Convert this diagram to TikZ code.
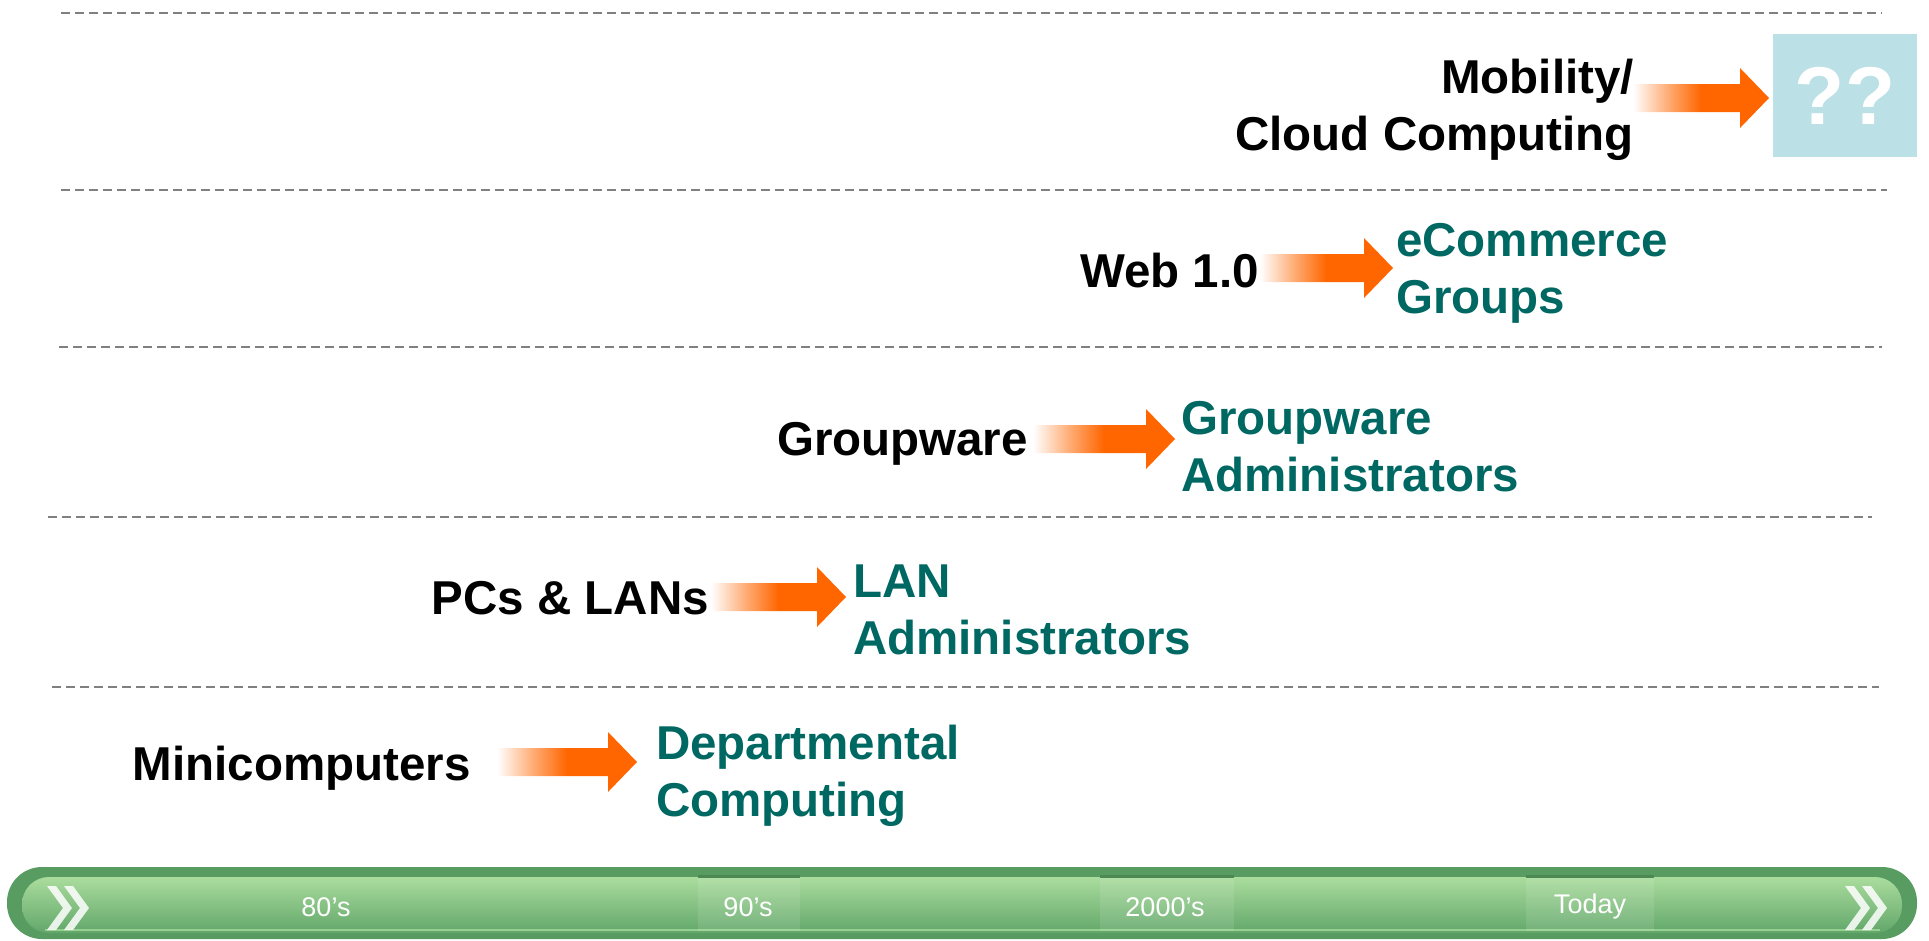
\documentclass[tikz,border=0pt]{standalone}
\usepackage{fontspec}
\setmainfont{Liberation Sans}
\usetikzlibrary{calc}

\definecolor{roleTeal}{RGB}{0,104,98}
\definecolor{arrowOrange}{RGB}{255,102,0}
\definecolor{qqBlue}{RGB}{187,224,229}
\definecolor{dashGrey}{RGB}{128,128,128}
\definecolor{barOuter}{RGB}{88,156,98}
\definecolor{barLight}{RGB}{170,221,157}
\definecolor{barDark}{RGB}{98,166,106}
\definecolor{barHi}{RGB}{150,208,142}
\definecolor{barLine}{RGB}{76,136,84}

\pgfdeclarehorizontalshading{arrowfade}{100bp}{color(0bp)=(white); color(25bp)=(white); color(38bp)=(arrowOrange!55); color(50bp)=(arrowOrange); color(100bp)=(arrowOrange)}

\newcommand\bigbold{\fontsize{47.5}{57}\selectfont\bfseries}
\newcommand\yearfont{\fontsize{27}{32}\selectfont}
\newcommand\fatarrow[2]{%
  \shade[shading=arrowfade]
    ($(#1)+(0,-14)$) -- ($(#2)+(-29,-14)$) -- ($(#2)+(-29,-30)$) -- (#2)
    -- ($(#2)+(-29,30)$) -- ($(#2)+(-29,14)$) -- ($(#1)+(0,14)$) -- cycle;}
\newcommand\chevron[1]{%
  \fill[white,opacity=0.85] ($(#1)+(0,-22)$) -- ($(#1)+(9,-22)$) -- ($(#1)+(25,0)$)
    -- ($(#1)+(9,22)$) -- ($(#1)+(0,22)$) -- ($(#1)+(16,0)$) -- cycle;}

\begin{document}
\begin{tikzpicture}[x=1pt,y=-1pt]
    \tikzstyle{tech}=[font=\bigbold,text=black,inner sep=0pt,anchor=east,align=right]
    \tikzstyle{role}=[font=\bigbold,text=roleTeal,inner sep=0pt,anchor=west,align=left]
    \tikzstyle{dashline}=[draw=dashGrey,line width=2.5pt,dash pattern=on 9pt off 5pt]
    \tikzstyle{year}=[font=\yearfont,text=white,inner sep=0pt]
    \useasboundingbox (0,0) rectangle (1929,940);

    % separators
    \foreach \y/\a/\b in {13/61/1882, 190/61/1887, 347/59/1882, 517/48/1872, 687/52/1879}
        \draw[dashline] (\a,\y) -- (\b,\y);

    % arrows
    \foreach \num/\a/\b/\y in {1/497/637/762, 2/711/846/597, 3/1033/1175/439, 4/1260/1393/268, 5/1633/1769/98} {
        \coordinate (A-\num) at (\a,\y);
        \coordinate (B-\num) at (\b,\y);
        \fatarrow{A-\num}{B-\num}
    }

    \foreach \num/\x/\y/\txt in {1/471/768/Minicomputers, 2/709/598/PCs \& LANs, 3/1028/444/Groupware, 4/1259/271/Web 1.0, 5/1634/110/{Mobility/\\Cloud Computing}}
        \node[tech] (T-\num) at (\x,\y) {\txt};

    \foreach \num/\x/\y/\txt in {1/656/776/{Departmental\\Computing}, 2/853/610/{LAN\\Administrators}, 3/1181/447/{Groupware\\Administrators}, 4/1396/273/{eCommerce\\Groups}}
        \node[role] (R-\num) at (\x,\y) {\txt};
    \node[fill=qqBlue,minimum width=144pt,minimum height=123pt,inner sep=0pt,text=white,font=\fontsize{82}{90}\selectfont\bfseries] (R-5) at (1845,95.5) {??};

    % timeline bar
    \fill[barOuter,rounded corners=35pt] (7,867) rectangle (1917,939);
    \shade[top color=barLight,bottom color=barDark,rounded corners=27pt] (22,877) rectangle (1902,933);
    \draw[barHi,line width=2pt] (45,930) -- (1880,930);
    \foreach \a/\b in {698/800, 1100/1234, 1526/1654} {
        \fill[white,opacity=0.1] (\a,878) rectangle (\b,931);
        \draw[barLine,line width=3pt] (\a,876) -- (\b,876);
    }
    \chevron{47,908}
    \chevron{64,908}
    \chevron{1845,908}
    \chevron{1862,908}
    \foreach \num/\x/\txt in {1/326/80's, 2/748/90's, 3/1165/2000's, 4/1590/Today}
        \node[year] (Y-\num) at (\x,907) {\txt};
\end{tikzpicture}
\end{document}
